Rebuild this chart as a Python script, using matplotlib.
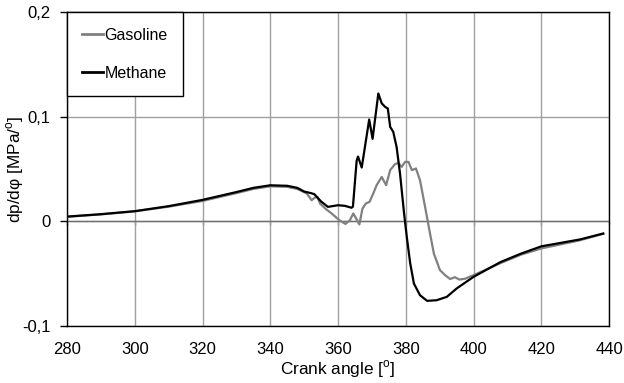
import matplotlib
matplotlib.use("Agg")
import matplotlib.pyplot as plt

plt.rcParams['font.family'] = ['Liberation Sans', 'DejaVu Sans']
plt.rcParams['font.size'] = 11.5

# crank angle [deg] and dp/dphi [MPa/deg]
gasoline_x = [280, 290, 300, 310, 320, 330, 335, 340, 345, 348, 350.8, 352.2, 353.2,
              353.9, 354.7, 356.2, 358.1, 360.6, 362.2, 363.5, 364.5, 365.3, 366.3,
              367.2, 368.2, 369.3, 370.4, 371.4, 372.9, 374.2, 375.4, 376.8, 377.8,
              378.8, 379.8, 380.8, 381.8, 383.0, 384.2, 385.7, 387.0, 388.3, 390.1,
              391.6, 393.1, 394.5, 395.8, 397.5, 400, 408, 414, 420, 431, 438.3]
gasoline_y = [0.0043, 0.0066, 0.0095, 0.014, 0.0195, 0.027, 0.031, 0.0335, 0.033, 0.031,
              0.0266, 0.0202, 0.0228, 0.0234, 0.017, 0.0123, 0.0075, 0.0005, -0.0025,
              0.001, 0.0075, 0.003, -0.003, 0.012, 0.017, 0.0186, 0.0266, 0.0346,
              0.0425, 0.0346, 0.049, 0.0547, 0.056, 0.0521, 0.0569, 0.0569, 0.049,
              0.0506, 0.0394, 0.0138, -0.009, -0.031, -0.0468, -0.0516, -0.0553,
              -0.0535, -0.0558, -0.055, -0.0516, -0.040, -0.032, -0.026, -0.0185, -0.012]

methane_x = [280, 290, 300, 310, 320, 330, 335, 340, 345, 348, 350, 352, 353, 355, 357,
             360, 362, 364, 364.4, 365.5, 365.9, 367.0, 369.2, 370.2, 371.9, 372.9,
             373.9, 374.7, 375.4, 376.3, 377.3, 378.3, 379.5, 380.3, 381.3, 382.4,
             384.2, 386.3, 389.1, 392.1, 395.0, 400, 408, 414, 420, 431.4, 438.3]
methane_y = [0.0045, 0.0068, 0.0097, 0.0145, 0.0205, 0.028, 0.032, 0.0345, 0.034, 0.032,
             0.0285, 0.027, 0.026, 0.019, 0.0138, 0.0154, 0.0148, 0.013, 0.014, 0.058,
             0.062, 0.0515, 0.0975, 0.079, 0.1224, 0.113, 0.1096, 0.108, 0.0904,
             0.0857, 0.071, 0.0458, 0.0075, -0.015, -0.040, -0.0596, -0.0708, -0.0762,
             -0.0756, -0.0724, -0.0644, -0.0532, -0.039, -0.031, -0.024, -0.0174, -0.0117]

x_ticks = [280, 300, 320, 340, 360, 380, 400, 420, 440]
y_ticks = [-0.1, 0, 0.1, 0.2]
y_tick_labels = ['-0,1', '0', '0,1', '0,2']

fig = plt.figure(figsize=(6.24, 3.83), dpi=100)
ax = fig.add_axes([0.1074, 0.1496, 0.8686, 0.8178])

ax.plot(gasoline_x, gasoline_y, color='#808080', lw=1.6, label='Gasoline', zorder=3)
ax.plot(methane_x, methane_y, color='black', lw=1.6, label='Methane', zorder=4)

ax.set_xlim(280, 440)
ax.set_ylim(-0.1, 0.2)
ax.set_xticks(x_ticks)
ax.set_yticks(y_ticks)
ax.set_yticklabels(y_tick_labels)
ax.grid(True, color='#a0a0a0', lw=1)
ax.axhline(0, color='#707070', lw=1, zorder=2)
ax.tick_params(axis='x', length=0, pad=12, labelsize=12)
ax.tick_params(axis='y', length=5, width=1, direction='out', pad=7, labelsize=12)
for s in ax.spines.values():
    s.set_linewidth(1)
    s.set_color('black')

# small tick marks on the zero line
sec = ax.secondary_xaxis(1 / 3)
sec.set_xticks(x_ticks)
sec.tick_params(length=3, width=1, color='#707070', labelbottom=False)
sec.spines['bottom'].set_visible(False)

ax.set_xlabel('Crank angle [$^\\mathregular{o}$]', labelpad=0.5, fontsize=12.4)
ax.set_ylabel('dp/d\u03c6 [MPa/$^\\mathregular{o}$]', labelpad=-3, fontsize=12.4)

leg = ax.legend(loc='upper left', bbox_to_anchor=(0, 1), borderaxespad=0,
                fancybox=False, edgecolor='black', framealpha=1,
                handlelength=1.3, handletextpad=0.1, labelspacing=1.45,
                borderpad=0.95)
leg.get_frame().set_linewidth(1)
for line in leg.get_lines():
    line.set_linewidth(2)

fig.savefig('out.png', dpi=100)
